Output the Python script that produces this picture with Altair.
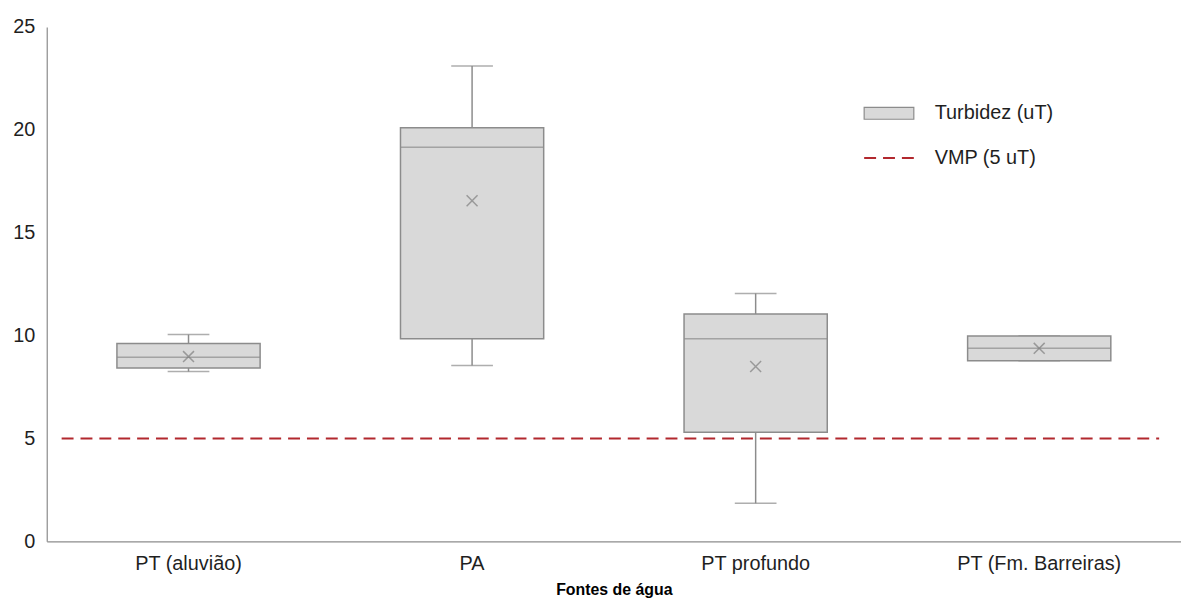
import altair as alt
import pandas as pd

categories = ["PT (aluvião)", "PA", "PT profundo", "PT (Fm. Barreiras)"]
whisker_low = [8.25, 8.55, 1.85, 8.78]
q1 = [8.42, 9.85, 5.30, 8.78]
median = [8.95, 19.15, 9.85, 9.38]
q3 = [9.62, 20.10, 11.05, 9.98]
whisker_high = [10.05, 23.10, 12.05, 9.98]
mean = [8.98, 16.55, 8.50, 9.38]
series_box = "Turbidez (uT)"
series_vmp = "VMP (5 uT)"
vmp_value = [5.0]
y_ticks = [0, 5, 10, 15, 20, 25]

W, H = 1142, 518
FONT = "Liberation Sans"
GRAY = "#8c8c8c"
FILL = "#d9d9d9"
RED = "#b2282e"
TXT = "#1f1f1f"

df = pd.DataFrame({
    "cat": categories, "lo": whisker_low, "q1": q1, "med": median,
    "q3": q3, "hi": whisker_high, "mean": mean,
    "serie": [series_box] * len(categories),
})
ref = pd.DataFrame({"vmp": vmp_value, "serie": [series_vmp]})

X = alt.X("cat:N", sort=categories,
          scale=alt.Scale(paddingInner=0, paddingOuter=0),
          axis=alt.Axis(title="Fontes de água", labelAngle=0, labelPadding=12,
                        titlePadding=8, titleFontWeight="bold", titleFontSize=16,
                        titleFont=FONT, titleColor="#000000"))


def Y(field):
    return alt.Y(f"{field}:Q", title=None,
                 scale=alt.Scale(domain=[0, 25], nice=False, zero=True),
                 axis=alt.Axis(values=y_ticks, labelPadding=12, format="d"))


base = alt.Chart(df)

whisk_low = base.mark_rule(color=GRAY, strokeWidth=1.5).encode(x=X, y=Y("lo"), y2="q1:Q")
whisk_high = base.mark_rule(color=GRAY, strokeWidth=1.5).encode(x=X, y=Y("q3"), y2="hi:Q")
cap_low = base.mark_tick(color=GRAY, size=42, thickness=1.5).encode(x=X, y=Y("lo"))
cap_high = base.mark_tick(color=GRAY, size=42, thickness=1.5).encode(x=X, y=Y("hi"))

box = base.mark_bar(width=alt.RelativeBandSize(0.505), stroke=GRAY, strokeWidth=1.5).encode(
    x=X, y=Y("q1"), y2="q3:Q",
    fill=alt.Fill("serie:N", scale=alt.Scale(domain=[series_box], range=[FILL]),
                  legend=alt.Legend(orient="none", legendX=822, legendY=61, title=None,
                                    symbolType="M-1,-0.24H1V0.24H-1Z", symbolSize=2500,
                                    symbolStrokeColor=GRAY, symbolStrokeWidth=1.2,
                                    labelFontSize=20, labelFont=FONT, labelColor=TXT,
                                    labelOffset=20)),
)
med = base.mark_tick(color=GRAY, size=144, thickness=1.5).encode(x=X, y=Y("med"))
mean_pt = base.mark_point(shape="M-1,-1L1,1M-1,1L1,-1", size=121, filled=False,
                          color="#7f7f7f", strokeWidth=1.5).encode(x=X, y=Y("mean"))

vmp = alt.Chart(ref).mark_rule(strokeDash=[12, 7], strokeWidth=2).encode(
    y=Y("vmp"),
    x=alt.value(15), x2=alt.value(W - 22),
    stroke=alt.Stroke("serie:N", scale=alt.Scale(domain=[series_vmp], range=[RED]),
                      legend=alt.Legend(orient="none", legendX=822, legendY=106, title=None,
                                        symbolType="stroke", symbolSize=2500,
                                        symbolDash=[12, 7], symbolStrokeWidth=2,
                                        labelFontSize=20, labelFont=FONT, labelColor=TXT,
                                        labelOffset=20)),
)

chart = alt.layer(whisk_low, whisk_high, cap_low, cap_high, box, med, mean_pt, vmp).properties(
    width=W, height=H,
    padding={"left": 4, "top": 7, "right": 0, "bottom": 0},
).resolve_legend(fill="independent", stroke="independent").configure_view(stroke=None).configure_axis(
    labelFont=FONT, labelFontSize=20, labelColor=TXT,
    domainColor=GRAY, domainWidth=1.2, ticks=False, grid=False,
)

chart.save("out.html", embed_options={"renderer": "svg", "actions": False})
